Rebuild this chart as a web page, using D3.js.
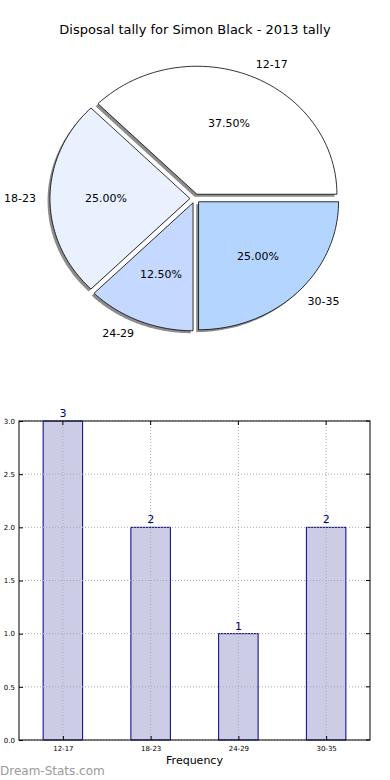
<!DOCTYPE html>
<html><head><meta charset="utf-8">
<script src="https://cdn.jsdelivr.net/npm/d3@7"></script>
<style>body{margin:0;background:#fff}svg{display:block;font-family:"DejaVu Sans",sans-serif}</style>
</head><body><svg id="c" width="390" height="780"></svg>
<script>
const categories = ["12-17","18-23","24-29","30-35"];
const counts = [3,2,1,2];
const sliceColors = ["#ffffff","#e9f1ff","#c5d8ff","#b4d5ff"];
const yTicks = [0,0.5,1,1.5,2,2.5,3];
const title = "Disposal tally for Simon Black - 2013 tally";

const svg = d3.select("#c");
svg.append("text").attr("x",195).attr("y",34).attr("text-anchor","middle")
  .attr("font-size",13).text(title);

// ---- Pie (elliptical, exploded, with shadow), counterclockwise from 0deg
const cx=195, cy=198.5, rx=140, ry=128, ex=0.036;
const total = d3.sum(counts);
const pie = d3.pie().sort(null).value(d=>d)(counts);
function slicePath(a0,a1,ox,oy){
  const p=d3.path();
  p.moveTo(ox,oy);
  const n=60;
  for(let i=0;i<=n;i++){const a=a0+(a1-a0)*i/n; p.lineTo(ox+rx*Math.cos(a), oy-ry*Math.sin(a));}
  p.closePath();
  return p.toString();
}
const slices = pie.map((d,i)=>{
  const a0 = d.startAngle, a1 = d.endAngle;
  const mid=(a0+a1)/2;
  const ox = cx + ex*rx*Math.cos(mid), oy = cy - ex*ry*Math.sin(mid);
  return {a0,a1,mid,ox,oy,i,v:d.value};
});
const g = svg.append("g");
slices.forEach(s=>{
  g.append("path").attr("d",slicePath(s.a0,s.a1,s.ox-2.4,s.oy+2.4)).attr("fill","#8c8c8c");
});
slices.forEach(s=>{
  g.append("path").attr("d",slicePath(s.a0,s.a1,s.ox,s.oy)).attr("fill",sliceColors[s.i])
   .attr("stroke","#000").attr("stroke-width",0.8).attr("stroke-linejoin","miter");
});
slices.forEach(s=>{
  const c=Math.cos(s.mid), sn=Math.sin(s.mid);
  const lx = s.ox + 1.1*rx*c, ly = s.oy - 1.1*ry*sn;
  g.append("text").attr("x",lx).attr("y",ly).attr("dy","0.35em").attr("font-size",11)
   .attr("text-anchor", c>0.001?"start":(c<-0.001?"end":"middle")).text(categories[s.i]);
  const px = s.ox + 0.6*rx*c, py = s.oy - 0.6*ry*sn;
  g.append("text").attr("x",px).attr("y",py).attr("dy","0.35em").attr("font-size",11)
   .attr("text-anchor","middle").text((100*s.v/total).toFixed(2)+"%");
});

// ---- Bar chart
const L=19,R=370,T=421,B=740;
const x = d3.scaleLinear().domain([-0.5,3.5]).range([L,R]);
const y = d3.scaleLinear().domain([0,3]).range([B,T]);
const bw = 0.45;
const bg = svg.append("g");
bg.selectAll("rect.bar").data(counts).join("rect").attr("class","bar")
  .attr("x",(d,i)=>x(i-bw/2)).attr("width",(d,i)=>x(i+bw/2)-x(i-bw/2))
  .attr("y",d=>y(d)).attr("height",d=>B-y(d))
  .attr("fill","#ccccе6".replace("е","e")).attr("stroke","#000080").attr("stroke-width",1);
yTicks.forEach(t=>{
  bg.append("line").attr("x1",L).attr("x2",R).attr("y1",y(t)).attr("y2",y(t))
    .attr("stroke","#aaaaaa").attr("stroke-width",1).attr("stroke-dasharray","1,2");
});
categories.forEach((c,i)=>{
  bg.append("line").attr("x1",x(i)).attr("x2",x(i)).attr("y1",T).attr("y2",B)
    .attr("stroke","#aaaaaa").attr("stroke-width",1).attr("stroke-dasharray","1,2");
});
bg.append("rect").attr("x",L).attr("y",T).attr("width",R-L).attr("height",B-T)
  .attr("fill","none").attr("stroke","#000").attr("stroke-width",1);
const yAxis = d3.axisLeft(y).tickValues(yTicks).tickFormat(d3.format(".1f")).tickSize(-4).tickPadding(4);
const ya = bg.append("g").attr("transform",`translate(${L},0)`).call(yAxis);
ya.select(".domain").remove();
ya.selectAll("text").attr("font-size",7).attr("font-family","DejaVu Sans");
const xAxis = d3.axisBottom(x).tickValues(d3.range(categories.length)).tickFormat(i=>categories[i]).tickSize(-4).tickPadding(6);
const xa = bg.append("g").attr("transform",`translate(0,${B})`).call(xAxis);
xa.select(".domain").remove();
xa.selectAll("text").attr("font-size",7).attr("font-family","DejaVu Sans");
bg.selectAll(".tick line").attr("stroke","#000");
yTicks.forEach(t=>bg.append("line").attr("x1",R).attr("x2",R-4).attr("y1",y(t)).attr("y2",y(t)).attr("stroke","#000"));
categories.forEach((c,i)=>bg.append("line").attr("x1",x(i)).attr("x2",x(i)).attr("y1",T).attr("y2",T+4).attr("stroke","#000"));
bg.selectAll("text.val").data(counts).join("text").attr("class","val")
  .attr("x",(d,i)=>x(i)).attr("y",d=>y(d)-4).attr("text-anchor","middle")
  .attr("font-size",11).attr("fill","#000080").text(d=>d);
svg.append("text").attr("x",x(1.5)).attr("y",764).attr("text-anchor","middle").attr("font-size",11).text("Frequency");
svg.append("text").attr("x",0).attr("y",775).attr("font-size",12)
  .attr("fill","#9a9a9a").text("Dream-Stats.com");
</script></body></html>
